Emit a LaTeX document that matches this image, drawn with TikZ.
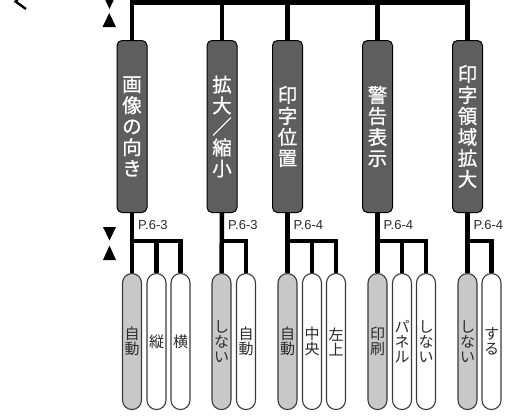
\documentclass[tikz,border=0pt]{standalone}
\usepackage{fontspec}
\newfontfamily\jp{Noto Sans CJK JP}
\newfontfamily\jpm[FakeBold=0.8]{Noto Sans CJK JP}
\newfontfamily\lat{Liberation Sans}
\definecolor{darkbox}{HTML}{5E5E5E}
\definecolor{selbox}{HTML}{C8C8C8}
\definecolor{txt}{HTML}{2A2A2A}
\definecolor{optline}{HTML}{3A3A3A}
\begin{document}
\begin{tikzpicture}[x=1pt,y=-1pt,
  catbox/.style={draw=black, line width=1pt, fill=darkbox, rounded corners=5pt,
    minimum width=30pt, minimum height=172pt, inner sep=0pt, anchor=north,
    text=white, font=\jpm\fontsize{19.5}{21}\selectfont, align=center},
  optbox/.style={draw=optline, line width=1.1pt, fill=white, rounded corners=9.4pt,
    minimum width=19pt, minimum height=136pt, inner sep=0pt, anchor=north,
    text=txt, font=\jp\fontsize{15}{15}\selectfont, align=center},
  sel/.style={fill=selbox},
  conn/.style={line width=4.5pt, line join=miter},
  pref/.style={font=\lat\fontsize{13}{14}\selectfont, text=txt, anchor=west, inner sep=0pt},
  marker/.style={fill=black, draw=none}]
\useasboundingbox (0,0) rectangle (525,416);

% category boxes
\node[catbox] (c1) at (132,40) {画\\像\\の\\向\\き};
\node[catbox] (c2) at (222,40) {拡\\大\\／\\縮\\小};
\node[catbox] (c3) at (287.5,40) {印\\字\\位\\置};
\node[catbox] (c4) at (377.5,40) {警\\告\\表\\示};
\node[catbox] (c5) at (467.5,40) {印\\字\\領\\域\\拡\\大};

% option boxes
\node[optbox,sel] (o11) at (132,273) {自\\動};
\node[optbox] (o12) at (156.5,273) {縦};
\node[optbox] (o13) at (180.5,273) {横};
\node[optbox,sel] (o21) at (221.5,273) {し\\な\\い};
\node[optbox] (o22) at (246,273) {自\\動};
\node[optbox,sel] (o31) at (287.5,273) {自\\動};
\node[optbox] (o32) at (312,273) {中\\央};
\node[optbox] (o33) at (336,273) {左\\上};
\node[optbox,sel] (o41) at (377.5,273) {印\\刷};
\node[optbox] (o42) at (402,273) {パ\\ネ\\ル};
\node[optbox] (o43) at (426,273) {し\\な\\い};
\node[optbox,sel] (o51) at (467.5,273) {し\\な\\い};
\node[optbox] (o52) at (491.5,273) {す\\る};

% page references
\node[pref] (p1) at (138,225) {P.6-3};
\node[pref] (p2) at (228,225) {P.6-3};
\node[pref] (p3) at (293.5,225) {P.6-4};
\node[pref] (p4) at (383.5,225) {P.6-4};
\node[pref] (p5) at (473.5,225) {P.6-4};

% top bar
\coordinate (topbar) at (0,2.25);
\coordinate (br) at (0,241);
\draw[conn] (c1.north) -- (c1.north |- topbar) -- (c5.north |- topbar) -- (c5.north);
\draw[conn] (c2.north) -- (c2.north |- topbar);
\draw[conn] (c3.north) -- (c3.north |- topbar);
\draw[conn] (c4.north) -- (c4.north |- topbar);

% branches
\draw[conn] (c1.south) -- (o11.north);
\draw[conn] (o11.north |- br) -| (o13.north);
\draw[conn] (o12.north) -- (o12.north |- br);
\draw[conn] (c2.south) -- (o21.north);
\draw[conn] (o21.north |- br) -| (o22.north);
\draw[conn] (c3.south) -- (o31.north);
\draw[conn] (o31.north |- br) -| (o33.north);
\draw[conn] (o32.north) -- (o32.north |- br);
\draw[conn] (c4.south) -- (o41.north);
\draw[conn] (o41.north |- br) -| (o43.north);
\draw[conn] (o42.north) -- (o42.north |- br);
\draw[conn] (c5.south) -- (o51.north);
\draw[conn] (o51.north |- br) -| (o52.north);

% markers
\fill[marker] (103,-5) -- (116,-5) -- (109.5,9) -- cycle;
\fill[marker] (102.5,27) -- (116,27) -- (109.3,13) -- cycle;
\fill[marker] (103,227) -- (116,227) -- (109.5,240.5) -- cycle;
\fill[marker] (103,260) -- (116,260) -- (109.5,245.5) -- cycle;

% partial glyph at top left
\draw[line width=2.4pt] (20,-3) -- (15.5,1.5) -- (26,9);
\end{tikzpicture}
\end{document}
